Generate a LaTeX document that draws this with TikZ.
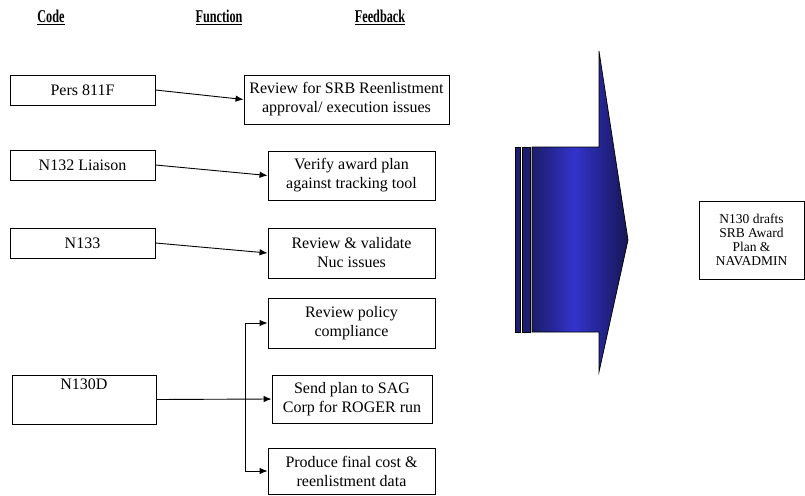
\documentclass[tikz,border=0pt]{standalone}
\usepackage{fontspec}
\setmainfont{Liberation Serif}
\newfontfamily\headfont{Liberation Serif}[FakeStretch=0.68]
\usetikzlibrary{arrows.meta}
\definecolor{navyA}{RGB}{28,28,105}
\definecolor{blueB}{RGB}{51,51,204}
\definecolor{navyC}{RGB}{22,22,85}
\definecolor{stripc}{RGB}{30,30,110}
\pgfdeclarehorizontalshading{arrowsh}{100bp}{color(0bp)=(navyA); color(25bp)=(navyA); color(47bp)=(blueB); color(75bp)=(navyC); color(100bp)=(navyC)}
\tikzset{
  box/.style={draw=black, line width=0.9pt, fill=white, align=center, inner sep=0pt,
    font=\fontsize{16}{19}\selectfont},
  head/.style={font=\headfont\bfseries\fontsize{18}{20}\selectfont, inner sep=0pt},
  conn/.style={line width=0.9pt, -{Latex[length=8pt,width=6.5pt]}},
}
\begin{document}
\begin{tikzpicture}[x=1pt,y=-1pt]
\useasboundingbox (0,0) rectangle (805,495);
% headings
\node[head] (hcode) at (51,17) {\underline{Code}};
\node[head] (hfunc) at (219,17) {\underline{Function}};
\node[head] (hfeed) at (380,17) {\underline{Feedback}};
% code boxes
\node[box, minimum width=145pt, minimum height=30pt] (pers) at (82.5,90) {Pers 811F};
\node[box, minimum width=145pt, minimum height=30pt] (liaison) at (82.5,165) {N132 Liaison};
\node[box, minimum width=145pt, minimum height=30pt] (n133) at (82.5,243) {N133};
\node[box, minimum width=144pt, minimum height=49pt,
  label={[font=\fontsize{16}{19}\selectfont, anchor=north, inner sep=0pt, yshift=-4pt]north:N130D}] (n130d) at (84,399.5) {};
% function boxes
\node[box, minimum width=205pt, minimum height=49pt] (rev1) at (346.5,99.5) {Review for SRB Reenlistment\\approval/ execution issues};
\node[box, minimum width=167pt, minimum height=49pt] (verify) at (351.5,175.5) {Verify award plan\\against tracking tool};
\node[box, minimum width=167pt, minimum height=50pt] (nuc) at (351.5,253) {Review \& validate\\Nuc issues};
\node[box, minimum width=167pt, minimum height=50pt] (pol) at (351.5,323) {Review policy\\compliance};
\node[box, minimum width=160pt, minimum height=48pt] (send) at (352,399) {Send plan to SAG\\Corp for ROGER run};
\node[box, minimum width=167pt, minimum height=46pt] (prod) at (351.5,471) {Produce final cost \&\\reenlistment data};
% result box
\node[box, minimum width=105pt, minimum height=78pt, font=\fontsize{13.5}{14}\selectfont] (n130) at (751.5,240) {N130 drafts\\SRB Award\\Plan \&\\NAVADMIN};
% connectors
\draw[conn] (pers.east) -- (rev1.west);
\draw[conn] (liaison.east) -- (verify.west);
\draw[conn] (n133.east) -- (nuc.west);
\coordinate (jn) at (245,399.5);
\draw[conn] (n130d.east) -- (send.west);
\draw[conn] (jn) |- (pol.west);
\draw[conn] (jn) |- (prod.west);
% feedback arrow
\draw[line width=0.6pt, fill=stripc] (515,147) rectangle (520,332);
\draw[line width=0.6pt, fill=stripc] (522,147) rectangle (530,332);
\draw[line width=0.7pt, shading=arrowsh] (532,147) -- (599,147) -- (599,51) -- (628,240) -- (599,372) -- (599,332) -- (532,332) -- cycle;
\end{tikzpicture}
\end{document}
